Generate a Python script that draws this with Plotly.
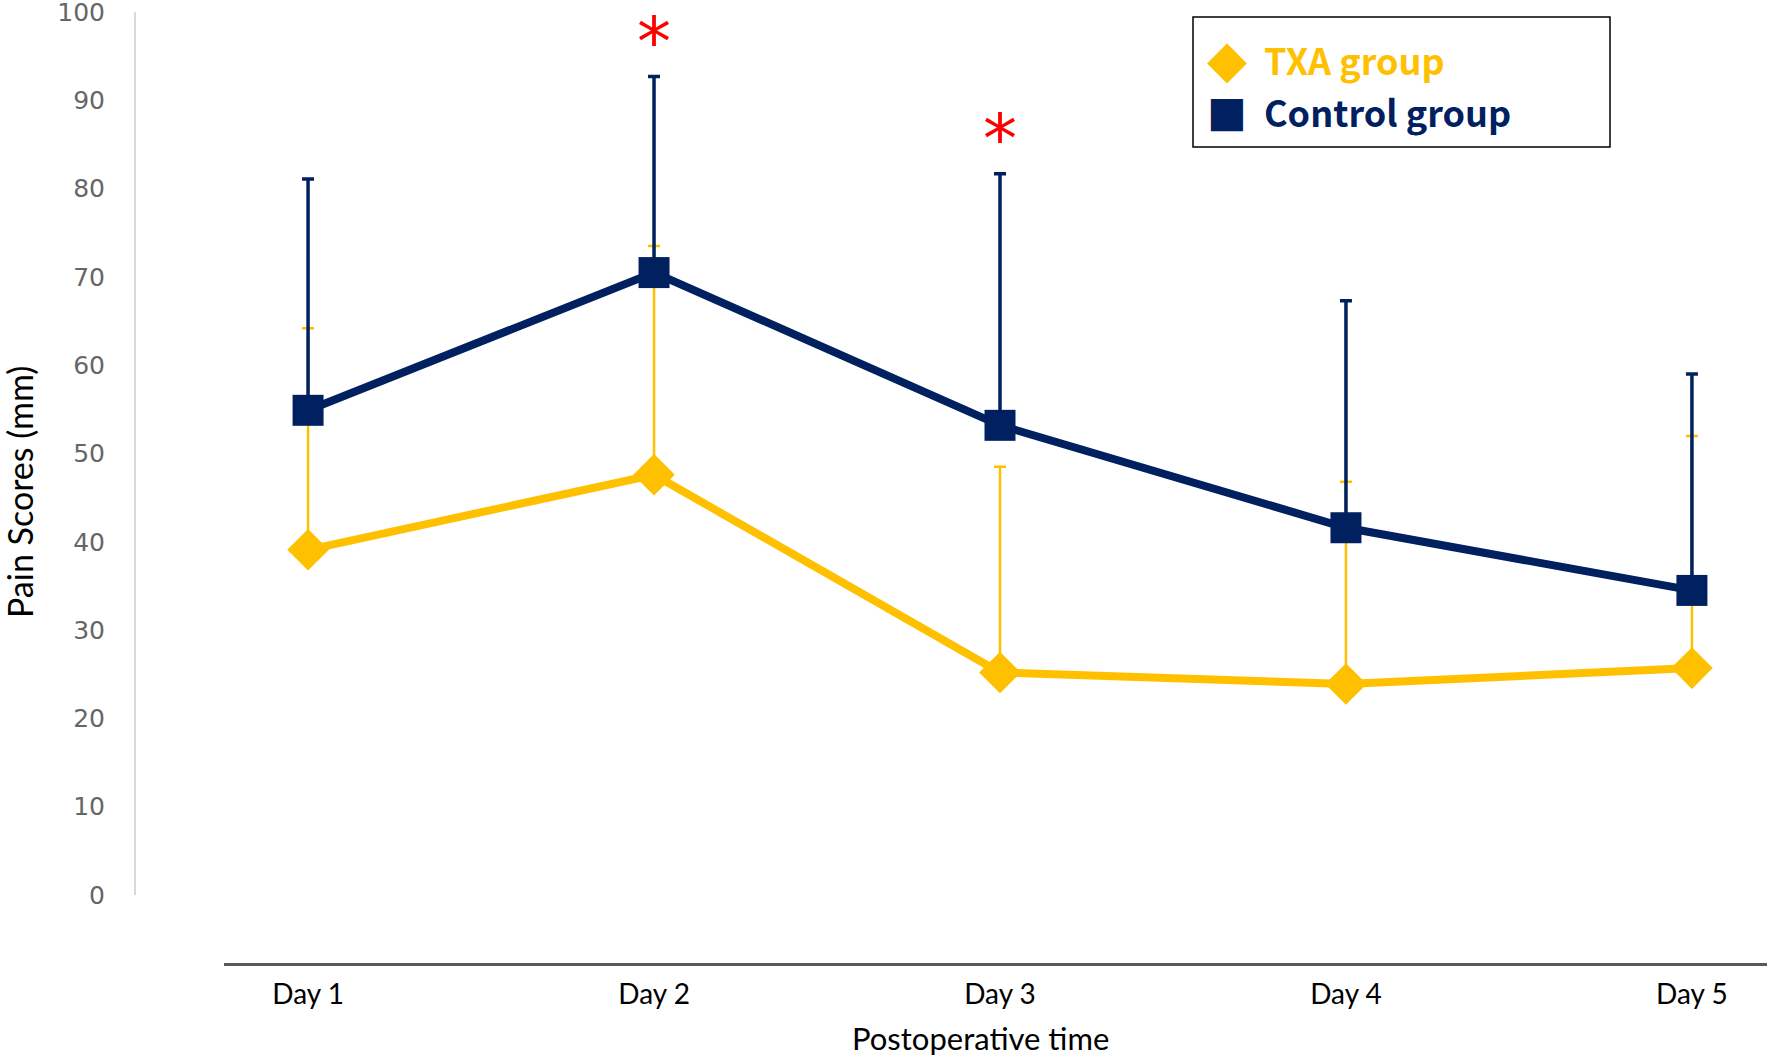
import plotly.graph_objects as go

# pain scores (mean, upper SD) per postoperative day
days = ["Day 1", "Day 2", "Day 3", "Day 4", "Day 5"]
txa_mean = [39.1, 47.6, 25.2, 23.9, 25.7]
txa_sd = [25.1, 25.9, 23.3, 22.9, 26.3]
ctrl_mean = [54.9, 70.5, 53.2, 41.6, 34.5]
ctrl_sd = [26.2, 22.2, 28.5, 25.7, 24.5]
sig_days = ["Day 2", "Day 3"]   # marked with *
y_ticks = list(range(0, 101, 10))

YELLOW = "#FFC000"
NAVY = "#002060"
W, H = 1770, 1060


def px(x):
    return min(1.0, x / W)


def py(y):
    return 1 - y / H


fig = go.Figure()

fig.add_trace(go.Scatter(
    x=days, y=txa_mean, mode="lines+markers", name="TXA group",
    line=dict(color=YELLOW, width=8),
    marker=dict(symbol="diamond", size=32, color=YELLOW),
    error_y=dict(type="data", symmetric=False, array=txa_sd, arrayminus=[0] * 5,
                 color=YELLOW, thickness=2.5, width=6),
    showlegend=False))

fig.add_trace(go.Scatter(
    x=days, y=ctrl_mean, mode="lines+markers", name="Control group",
    line=dict(color=NAVY, width=8),
    marker=dict(symbol="square", size=31, color=NAVY),
    error_y=dict(type="data", symmetric=False, array=ctrl_sd, arrayminus=[0] * 5,
                 color=NAVY, thickness=3.5, width=6),
    showlegend=False))

annos = []
# significance stars
for d in sig_days:
    i = days.index(d)
    annos.append(dict(x=d, y=ctrl_mean[i] + ctrl_sd[i] + 4.0, xref="x", yref="y",
                      text="*", showarrow=False, yanchor="middle",
                      font=dict(family="DejaVu Sans", size=68, color="#FF0000")))

# axis titles
annos.append(dict(x=px(19), y=py(492), xref="paper", yref="paper", text="Pain Scores (mm)",
                  textangle=-90, showarrow=False, xanchor="center", yanchor="middle",
                  font=dict(family="Lato", size=34, color="black")))
annos.append(dict(x=px(980), y=py(1038), xref="paper", yref="paper", text="Postoperative time",
                  showarrow=False, xanchor="center", yanchor="middle",
                  font=dict(family="Lato", size=31, color="black")))

# legend (hand drawn)
leg_items = [("◆", 52, "TXA group", YELLOW, 59), ("■", 42, "Control group", NAVY, 111)]
for glyph, gsize, label, col, yy in leg_items:
    annos.append(dict(x=px(1227), y=py(yy), xref="paper", yref="paper", text=glyph,
                      showarrow=False, xanchor="center", yanchor="middle",
                      font=dict(family="DejaVu Sans", size=gsize, color=col)))
    annos.append(dict(x=px(1262), y=py(yy), xref="paper", yref="paper", text="<b>" + label + "</b>",
                      showarrow=False, xanchor="left", yanchor="middle",
                      font=dict(family="Noto Sans CJK JP", size=36, color=col)))

shapes = [
    dict(type="rect", xref="paper", yref="paper", x0=px(1193), x1=px(1610), y0=py(17), y1=py(147),
         line=dict(color="black", width=1.5), fillcolor="white", layer="below"),
    dict(type="line", xref="paper", yref="y", x0=px(135), x1=px(135), y0=0, y1=100,
         line=dict(color="#d9d9d9", width=2), layer="below"),
]

fig.update_layout(
    width=W, height=H,
    margin=dict(l=0, r=0, t=0, b=0),
    paper_bgcolor="white", plot_bgcolor="white",
    annotations=annos, shapes=shapes,
    xaxis=dict(domain=[px(224), px(1767)], range=[-0.243, 4.217], showgrid=False,
               showline=True, linecolor="#595959", linewidth=2.5, zeroline=False,
               ticks="", ticklabelstandoff=5, automargin=False,
               tickfont=dict(family="Lato", size=28, color="black")),
    yaxis=dict(domain=[py(963), py(8.6)], range=[-7.7, 100.4], anchor="free", position=px(135),
               tickvals=y_ticks, showgrid=False, zeroline=False, showline=False,
               ticks="", ticklabelstandoff=30, automargin=False, ticklabeloverflow="allow",
               tickfont=dict(family="DejaVu Sans", size=25, color="#666666")),
)

# drop the default page margin so the figure fills the window exactly
fig.write_html("out.html", config={"displayModeBar": False},
               post_script="document.body.style.margin='0';")
